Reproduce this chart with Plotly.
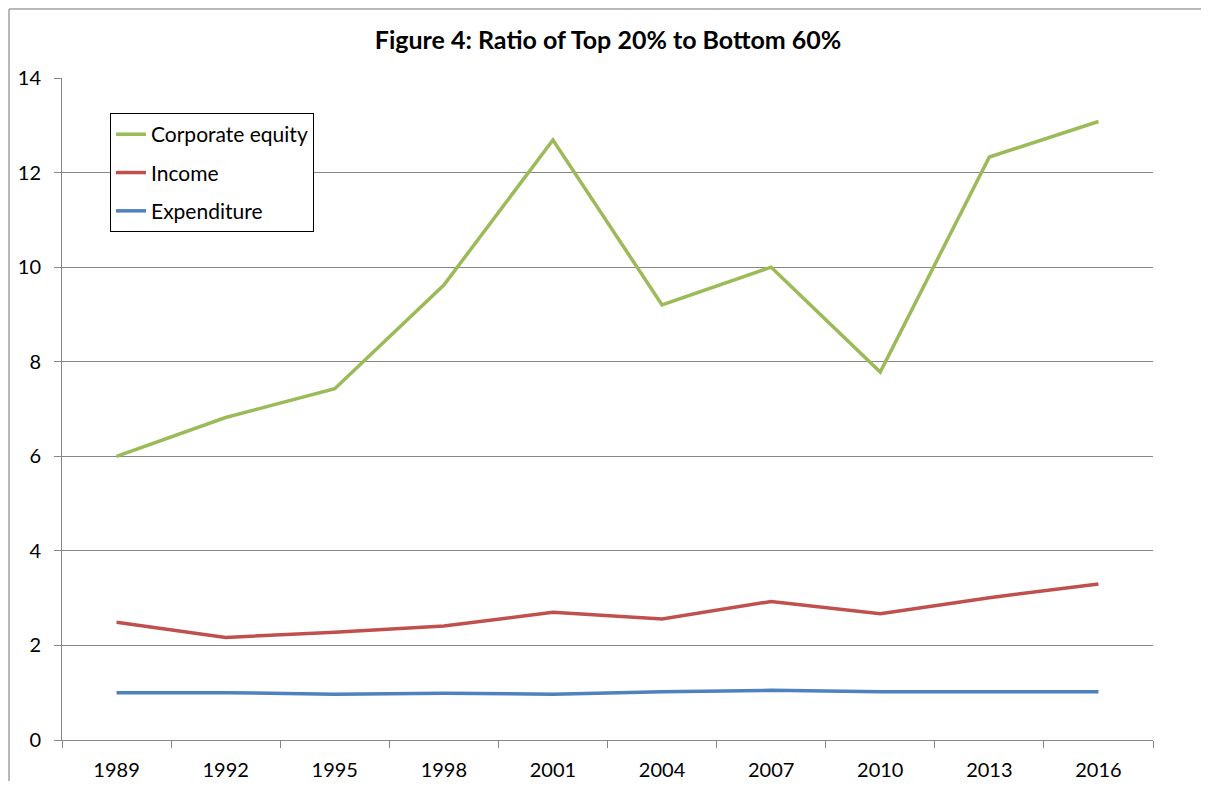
import plotly.graph_objects as go

years = ["1989", "1992", "1995", "1998", "2001", "2004", "2007", "2010", "2013", "2016"]
corporate_equity = [6.0, 6.82, 7.43, 9.62, 12.69, 9.2, 10.0, 7.78, 12.33, 13.08]
income = [2.49, 2.17, 2.28, 2.41, 2.70, 2.56, 2.93, 2.67, 3.01, 3.30]
expenditure = [1.0, 1.0, 0.97, 0.99, 0.97, 1.02, 1.05, 1.02, 1.02, 1.02]

series = [
    ("Corporate equity", corporate_equity, "#9BBB59"),
    ("Income", income, "#C0504D"),
    ("Expenditure", expenditure, "#4F81BD"),
]

FONT = "Lato, Carlito, Calibri, sans-serif"

W, H = 1193, 773
L, R, T, B = 54, 48, 70, 41
PW, PH = W - L - R, H - T - B

fig = go.Figure()
for name, vals, color in series:
    fig.add_trace(go.Scatter(
        x=years, y=vals, name=name, mode="lines",
        line=dict(color=color, width=3.5),
        legendgroup=name,
    ))

fig.update_layout(
    width=W, height=H,
    margin=dict(l=L, r=R, t=T, b=B, autoexpand=False),
    paper_bgcolor="white", plot_bgcolor="white",
    font=dict(family=FONT, size=20, color="black"),
    title=dict(text="<b>Figure 4: Ratio of Top 20% to Bottom 60%</b>",
               x=0.503, xanchor="center", y=1 - 32 / H, yanchor="middle",
               font=dict(family=FONT, size=25, color="black")),
    showlegend=True,
    legend=dict(x=0.044, y=0.947, xanchor="left", yanchor="top",
                bordercolor="black", borderwidth=1, bgcolor="white",
                font=dict(family=FONT, size=21, color="black"),
                traceorder="grouped", tracegroupgap=8),
    xaxis=dict(type="category", range=[-0.5, 9.5], tickson="boundaries",
               ticks="outside", ticklen=7, tickcolor="#868686",
               ticklabelstandoff=12, automargin=False,
               showline=True, linecolor="#868686", linewidth=1,
               showgrid=False, zeroline=False, fixedrange=True),
    yaxis=dict(range=[0, 14], dtick=2, ticks="outside", ticklen=7,
               tickcolor="#868686", ticklabelstandoff=9, automargin=False,
               showline=True, linecolor="#868686",
               linewidth=1, showgrid=True, gridcolor="#868686", gridwidth=1,
               zeroline=False, fixedrange=True),
    shapes=[
        dict(type="line", xref="paper", yref="paper",
             x0=-(L - 1) / PW, x1=(PW + R) / PW, y0=(PH + T - 1) / PH, y1=(PH + T - 1) / PH,
             line=dict(color="#A0A0A0", width=1.5)),
        dict(type="line", xref="paper", yref="paper",
             x0=-(L - 1) / PW, x1=-(L - 1) / PW, y0=(PH + T - 1) / PH, y1=-B / PH,
             line=dict(color="#A0A0A0", width=1.5)),
    ],
)

fig.write_html("out.html")
